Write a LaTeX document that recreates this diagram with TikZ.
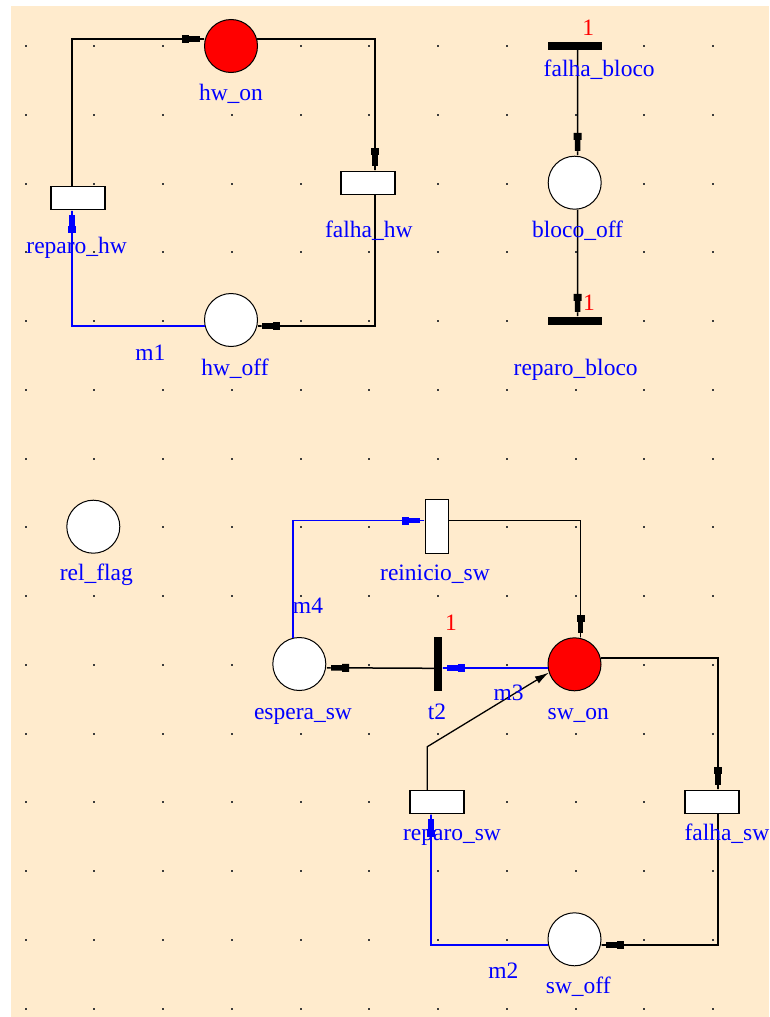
\documentclass[tikz,border=0pt]{standalone}
\usepackage{fontspec}
\setmainfont{Liberation Serif}
\usetikzlibrary{arrows.meta}
\definecolor{bg}{RGB}{255,235,205}
\definecolor{dotc}{RGB}{60,60,60}
\tikzset{
  pnTip/.tip={Rectangle[length=7pt,width=8pt,sep=0pt] Rectangle[length=11pt,width=5.5pt,sep=0pt] Rectangle[length=5pt,width=1.5pt,sep=0pt]},
}
\begin{document}
\begin{tikzpicture}[x=1pt,y=-1pt,
  place/.style={circle,draw=black,line width=1pt,fill=white,minimum size=53pt,inner sep=0pt},
  marked/.style={place,fill=red},
  trans/.style={rectangle,draw=black,line width=1.1pt,fill=white,minimum width=54pt,minimum height=23pt,inner sep=0pt},
  vtrans/.style={trans,minimum width=23pt,minimum height=54pt},
  hbar/.style={rectangle,fill=black,minimum width=54pt,minimum height=8pt,inner sep=0pt},
  vbar/.style={hbar,minimum width=8pt,minimum height=54pt},
  lbl/.style={text=blue,font=\fontsize{23.5}{28}\selectfont,inner sep=0pt,anchor=base},
  num/.style={lbl,text=red},
  arc/.style={draw=black,line width=1.5pt,-{pnTip}},
  barc/.style={arc,draw=blue},
]
\useasboundingbox (0,0) rectangle (769,1017);
\fill[white] (0,0) rectangle (769,1017);
\fill[bg] (11,6) rectangle (769,1017);
\foreach \i in {0,...,10}
  \foreach \j in {0,...,14}
    \fill[dotc] ({25.7+68.75*\i-1},{46+68.75*\j-1}) rectangle ++(2,2);

% ---------- nodes ----------
\node[marked] (hw_on) at (231,46) {};
\node[place] (hw_off) at (231,320) {};
\node[trans] (reparo_hw) at (78,198) {};
\node[trans] (falha_hw) at (368,183) {};

\node[hbar] (falha_bloco) at (574.5,46) {};
\node[place] (bloco_off) at (574.7,182.7) {};
\node[hbar] (reparo_bloco) at (574.5,321) {};

\node[place] (rel_flag) at (93.3,526.7) {};
\node[place] (espera_sw) at (299.3,664) {};
\node[vtrans] (reinicio_sw) at (437,526.7) {};
\node[vbar] (t2) at (438,664.3) {};
\node[marked] (sw_on) at (574.5,664.3) {};
\node[trans] (reparo_sw) at (437,801.8) {};
\node[trans] (falha_sw) at (712,801.8) {};
\node[place] (sw_off) at (574.5,939.3) {};

\coordinate (m3bend) at (427.3,746.7);

% ---------- arcs ----------
\draw[arc] ([xshift=-6pt]reparo_hw.north) |- (hw_on.165);
\draw[arc] (hw_on.15) -| ([xshift=7pt]falha_hw.north);
\draw[arc] ([xshift=7pt]falha_hw.south) |- (hw_off.-13);
\draw[barc] (hw_off.193) -| ([xshift=-6pt]reparo_hw.south);

\draw[arc] ([xshift=3pt]falha_bloco.south) -- (bloco_off.84);
\draw[arc] (bloco_off.-84) -- ([xshift=3pt]reparo_bloco.north);

\draw[barc] (espera_sw.103) |- ([yshift=6pt]reinicio_sw.west);
\draw[arc] ([yshift=6pt]reinicio_sw.east) -| (sw_on.77);
\draw[barc] (sw_on.188) -- (sw_on.188 -| t2.east);
\draw[arc] ([yshift=-4pt]t2.west) -- (espera_sw.-8);
\draw[draw=black,line width=1.3pt,-{Latex[length=14pt,width=8pt]}] ([xshift=-9.7pt]reparo_sw.north) -- (m3bend) -- (sw_on.198);
\draw[arc] (sw_on.13) -| ([xshift=6pt]falha_sw.north);
\draw[arc] ([xshift=6pt]falha_sw.south) |- (sw_off.-12);
\draw[barc] (sw_off.192) -| ([xshift=-6pt]reparo_sw.south);

% ---------- labels ----------
\node[lbl] (l_hw_on) at (231,100) {hw\_on};
\node[lbl] (l_hw_off) at (235,375) {hw\_off};
\node[lbl] (l_reparo_hw) at (76.7,253) {reparo\_hw};
\node[lbl] (l_falha_hw) at (368.8,237) {falha\_hw};
\node[lbl] (l_m1) at (150.3,360) {m1};

\node[num] (n_falha_bloco) at (588.3,35) {1};
\node[lbl] (l_falha_bloco) at (599.2,76.7) {falha\_bloco};
\node[lbl] (l_bloco_off) at (577.5,237.3) {bloco\_off};
\node[num] (n_reparo_bloco) at (589,310) {1};
\node[lbl] (l_reparo_bloco) at (575.7,375) {reparo\_bloco};

\node[lbl] (l_rel_flag) at (96.3,580) {rel\_flag};
\node[lbl] (l_m4) at (308,613.3) {m4};
\node[lbl] (l_espera_sw) at (303,719.3) {espera\_sw};
\node[lbl] (l_reinicio_sw) at (435,580) {reinicio\_sw};
\node[num] (n_t2) at (451,630) {1};
\node[lbl] (l_t2) at (437,719.3) {t2};
\node[lbl] (l_m3) at (508.7,700) {m3};
\node[lbl] (l_sw_on) at (578.3,719.3) {sw\_on};
\node[lbl] (l_reparo_sw) at (452,840) {reparo\_sw};
\node[lbl,anchor=base west] (l_falha_sw) at (684.3,840) {falha\_sw};
\node[lbl] (l_m2) at (503.3,978.3) {m2};
\node[lbl] (l_sw_off) at (578.3,993.3) {sw\_off};
\end{tikzpicture}
\end{document}
